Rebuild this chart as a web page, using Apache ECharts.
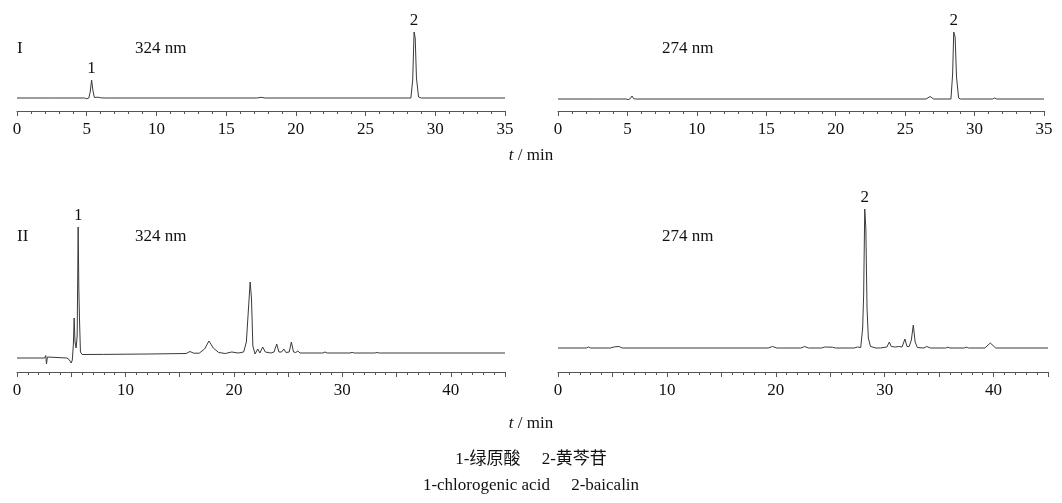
<!DOCTYPE html>
<html>
<head>
<meta charset="utf-8">
<script src="https://cdn.jsdelivr.net/npm/echarts@6/dist/echarts.min.js"></script>
<style>
html,body{margin:0;padding:0;background:#fff;}
#c{width:1062px;height:503px;}
</style>
</head>
<body>
<div id="c"></div>
<script>
// Chromatogram traces: [time (min), relative signal]
const traceI324 = [[0,0],[2.5,0],[2.6,0.6],[2.7,0],[4.85,0],[5.0,-0.8],[5.15,0],[5.25,6],[5.35,18],[5.45,7],[5.55,0.5],[5.8,0.8],[6.0,0.2],[6.3,0],[17.2,0],[17.5,0.7],[17.8,0],[28.25,0],[28.38,18],[28.48,66],[28.56,60],[28.65,20],[28.8,1],[29.0,0],[35,0]];
const traceI274 = [[0,0],[2.6,0],[2.7,0.5],[2.8,0],[4.9,0],[5.05,-0.6],[5.2,0.3],[5.33,3],[5.45,0.3],[5.6,0],[26.5,0],[26.8,2.5],[27.05,0],[28.3,0],[28.42,25],[28.5,67],[28.6,62],[28.7,22],[28.85,1],[29.0,0],[31.3,0],[31.45,1],[31.6,0],[35,0]];
const traceII324 = [[0,0],[2.55,0],[2.65,2.5],[2.72,-6],[2.8,1],[2.9,0],[4.6,0],[4.8,-1.5],[5.0,-5],[5.1,-2],[5.2,14],[5.27,40],[5.35,16],[5.45,10],[5.55,22],[5.64,131],[5.7,70],[5.76,40],[5.85,6],[6.0,3.5],[8,3.6],[12,4],[15.6,4.5],[15.95,6.5],[16.3,4.8],[16.8,4.8],[17.3,9],[17.7,17],[18.1,10],[18.6,5.5],[19.2,4.5],[19.8,6],[20.4,5],[20.9,6],[21.15,16],[21.3,14],[21.5,76],[21.62,60],[21.75,12],[21.95,4],[22.2,9],[22.4,5],[22.65,11],[22.9,6],[23.4,5],[23.7,6],[23.95,14],[24.15,6],[24.4,6],[24.6,9],[24.8,5.5],[25.1,6],[25.3,16],[25.5,6],[25.7,5.5],[25.9,7],[26.1,5],[28.2,5],[28.4,6],[28.6,5],[30.7,5],[30.9,5.6],[31.1,5],[33,5],[33.2,5.5],[33.4,5],[45,5]];
const traceII274 = [[0,0],[2.6,0],[2.8,1],[3.0,0],[4.8,0],[4.95,-0.8],[5.2,1.2],[5.6,1.5],[5.9,0],[19.3,0],[19.7,1.5],[20.1,0],[22.3,0],[22.65,1.5],[23.0,0],[24.2,0],[24.5,1],[25.2,0.8],[25.5,0],[27.2,0],[27.5,1],[27.8,0.5],[27.98,20],[28.07,53],[28.17,139],[28.27,120],[28.38,40],[28.5,10],[28.7,1.5],[29.2,0],[29.6,0],[30.2,1],[30.43,6],[30.6,1.5],[31.0,1],[31.3,1.5],[31.6,1],[31.86,9],[32.05,1.5],[32.25,1.5],[32.45,8],[32.63,23],[32.8,6],[33.0,0.5],[33.6,0],[33.87,1.5],[34.2,0],[35.6,0],[35.8,0.8],[36.0,0],[37.3,0],[37.5,0.8],[37.7,0],[39.2,0],[39.7,5],[40.2,0],[45,0]];

// Peak labels: [time, signal, text]
const peaksI324 = [[5.35,18,'1'],[28.48,66,'2']];
const peaksI274 = [[28.5,67,'2']];
const peaksII324 = [[5.64,131,'1']];
const peaksII274 = [[28.17,139,'2']];

const xMaxTop = 35, xMaxBottom = 45;
const panelTitles = ['324 nm','274 nm','324 nm','274 nm'];
const rowTitles = ['I','II'];
const footerCN = '1-绿原酸\u3000 2-黄芩苷';
const footerEN = '1-chlorogenic acid\u3000 2-baicalin';

const FONT = '"Liberation Serif","Times New Roman","Noto Sans CJK SC",serif';
const chart = echarts.init(document.getElementById('c'), null, {renderer:'canvas'});

const grids = [
  {left:17, width:488, top:32, height:79},
  {left:558, width:486, top:32, height:79},
  {left:17, width:488, top:227, height:145},
  {left:558, width:490, top:209, height:163}
];
const yRanges = [[-13,66],[-12,67],[-14,131],[-24,139]];
const traces = [traceI324, traceI274, traceII324, traceII274];
const peaks = [peaksI324, peaksI274, peaksII324, peaksII274];

function xAxis(i){
  const top = i < 2;
  const max = top ? xMaxTop : xMaxBottom;
  return {
    type:'value', gridIndex:i, min:0, max:max, interval:5,
    axisLine:{show:true, onZero:false, lineStyle:{color:'#555', width:1}},
    axisTick:{show:true, inside:false, length:5, lineStyle:{color:'#555', width:1}},
    minorTick:{show:true, splitNumber:5, length:3, lineStyle:{color:'#555', width:1}},
    splitLine:{show:false}, minorSplitLine:{show:false},
    axisLabel:{show:true, margin:10, color:'#111', fontSize:17, fontFamily:FONT,
      formatter: v => top ? String(v) : (v % 10 === 0 ? String(v) : '')}
  };
}

const option = {
  backgroundColor:'#fff',
  animation:false,
  grid: grids,
  xAxis: [0,1,2,3].map(xAxis),
  yAxis: [0,1,2,3].map(i => ({type:'value', gridIndex:i, min:yRanges[i][0], max:yRanges[i][1], show:false, splitLine:{show:false}})),
  series: [0,1,2,3].map(i => ({
    type:'line', xAxisIndex:i, yAxisIndex:i, data:traces[i], showSymbol:false, symbol:'none',
    lineStyle:{color:'#3a3a3a', width:1}, smooth:false, silent:true,
    markPoint:{
      symbol:'circle', symbolSize:0, silent:true,
      label:{show:true, position:'top', distance:3, color:'#111', fontSize:17, fontFamily:FONT, formatter:p=>p.data.txt},
      data: peaks[i].map(p => ({coord:[p[0],p[1]], value:p[2], txt:p[2]}))
    }
  })),
  title: [
    {text:rowTitles[0], left:17, top:40},
    {text:panelTitles[0], left:135, top:40},
    {text:panelTitles[1], left:662, top:40},
    {text:rowTitles[1], left:17, top:228},
    {text:panelTitles[2], left:135, top:228},
    {text:panelTitles[3], left:662, top:228},
    {text:'{i|t} / min', left:'center', top:147},
    {text:'{i|t} / min', left:'center', top:415},
    {text:footerCN, left:'center', top:451},
    {text:footerEN, left:'center', top:477}
  ].map(t => Object.assign({padding:0, textStyle:{fontSize:17, fontWeight:'normal', color:'#111', fontFamily:FONT,
      rich:{i:{fontStyle:'italic', fontSize:17, color:'#111', fontFamily:FONT}}}}, t))
};
chart.setOption(option);
</script>
</body>
</html>
